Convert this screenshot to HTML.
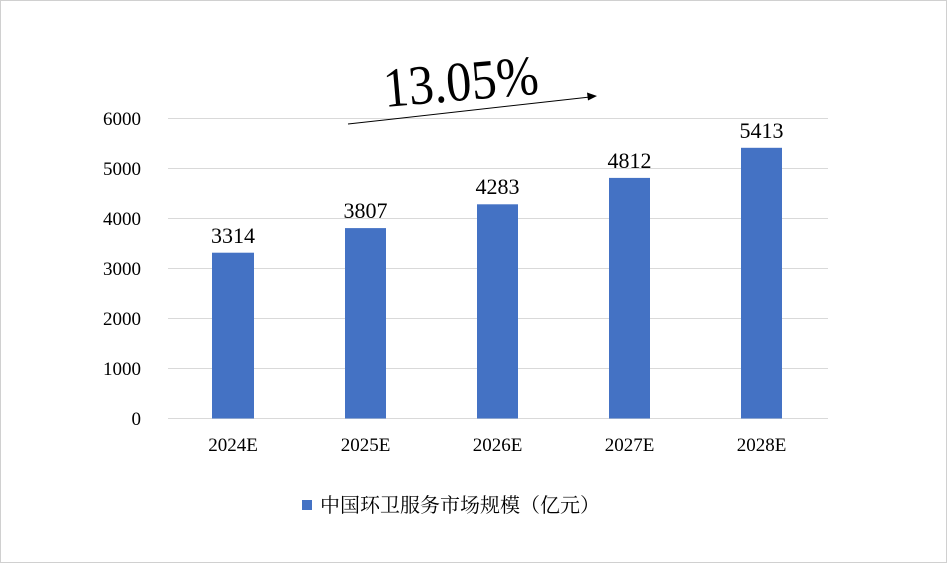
<!DOCTYPE html>
<html><head><meta charset="utf-8"><style>
body{margin:0;background:#fff}
svg{display:block}
</style></head><body>
<svg width="947" height="563" xmlns="http://www.w3.org/2000/svg" font-family="Liberation Serif, serif">
<rect x="0.5" y="0.5" width="946" height="562" fill="#fff" stroke="#d0d0d0"/>
<g stroke="#d9d9d9" stroke-width="1">
<line x1="168" x2="828" y1="118.5" y2="118.5"/>
<line x1="168" x2="828" y1="168.5" y2="168.5"/>
<line x1="168" x2="828" y1="218.5" y2="218.5"/>
<line x1="168" x2="828" y1="268.5" y2="268.5"/>
<line x1="168" x2="828" y1="318.5" y2="318.5"/>
<line x1="168" x2="828" y1="368.5" y2="368.5"/>
<line x1="168" x2="828" y1="418.5" y2="418.5"/>
</g>
<g font-size="19" text-anchor="end" fill="#000">
<text x="141" y="125">6000</text>
<text x="141" y="175">5000</text>
<text x="141" y="225">4000</text>
<text x="141" y="275">3000</text>
<text x="141" y="325">2000</text>
<text x="141" y="375">1000</text>
<text x="141" y="425">0</text>
</g>
<g fill="#4472c4">
<rect x="212" y="252.7" width="42" height="165.8"/>
<rect x="345" y="228.1" width="41" height="190.4"/>
<rect x="477" y="204.3" width="41" height="214.2"/>
<rect x="609" y="177.9" width="41" height="240.6"/>
<rect x="741" y="147.8" width="41" height="270.7"/>
</g>
<g font-size="22" text-anchor="middle" fill="#000">
<text x="233" y="243">3314</text>
<text x="365.5" y="218">3807</text>
<text x="497.5" y="194">4283</text>
<text x="629.5" y="168">4812</text>
<text x="761.5" y="138">5413</text>
</g>
<g font-size="19" text-anchor="middle" fill="#000">
<text x="233" y="451">2024E</text>
<text x="365.5" y="451">2025E</text>
<text x="497.5" y="451">2026E</text>
<text x="629.5" y="451">2027E</text>
<text x="761.5" y="451">2028E</text>
</g>
<line x1="348" y1="124" x2="590" y2="97" stroke="#000" stroke-width="1"/>
<polygon points="597,96 587,92.5 588,100.5" fill="#000"/>
<text x="0" y="0" font-size="56" transform="translate(385,107) rotate(-5) scale(0.9,1)" fill="#000">13.05%</text>
<rect x="302" y="500" width="10" height="10" fill="#4472c4"/>
<text x="320" y="512" font-size="20" font-family="Liberation Serif, Noto Serif CJK SC, serif" fill="#000">中国环卫服务市场规模（亿元）</text>
</svg>
</body></html>
